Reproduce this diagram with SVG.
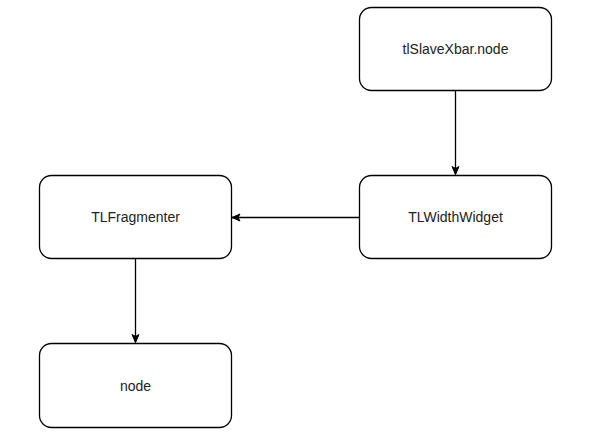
<svg xmlns="http://www.w3.org/2000/svg" width="589" height="435" viewBox="0 0 589 435">
<style>
.box{fill:#fff;stroke:#000;stroke-width:1.3}
.lbl{font-family:"Liberation Sans",Arial,sans-serif;font-size:14px;fill:#222;text-anchor:middle;dominant-baseline:central}
.edge{fill:none;stroke:#000;stroke-width:1.3}
</style>
<defs>
<marker id="arr" markerWidth="10" markerHeight="10" refX="9" refY="5" orient="auto" markerUnits="userSpaceOnUse">
<path d="M1,1.5 L9,5 L1,8.5 L3,5 Z" fill="#000" stroke="#000" stroke-width="1"/>
</marker>
</defs>
<rect width="589" height="435" fill="#fff"/>
<g id="connectors">
<path class="edge" d="M455.5,91 L455.5,174.5" marker-end="url(#arr)"/>
<path class="edge" d="M359.5,217.5 L232,217.5" marker-end="url(#arr)"/>
<path class="edge" d="M135.5,259 L135.5,342.5" marker-end="url(#arr)"/>
</g>
<g id="node-tlSlaveXbar">
<rect class="box" x="359.5" y="7.5" width="192" height="83" rx="12" ry="12"/>
<text class="lbl" x="455.5" y="49">tlSlaveXbar.node</text>
</g>
<g id="node-TLWidthWidget">
<rect class="box" x="359.5" y="175.5" width="192" height="83" rx="12" ry="12"/>
<text class="lbl" x="455.5" y="217">TLWidthWidget</text>
</g>
<g id="node-TLFragmenter">
<rect class="box" x="39.5" y="175.5" width="192" height="83" rx="12" ry="12"/>
<text class="lbl" x="135.5" y="217">TLFragmenter</text>
</g>
<g id="node-node">
<rect class="box" x="39.5" y="343.5" width="192" height="84" rx="12" ry="12"/>
<text class="lbl" x="135.5" y="385.5">node</text>
</g>
</svg>
